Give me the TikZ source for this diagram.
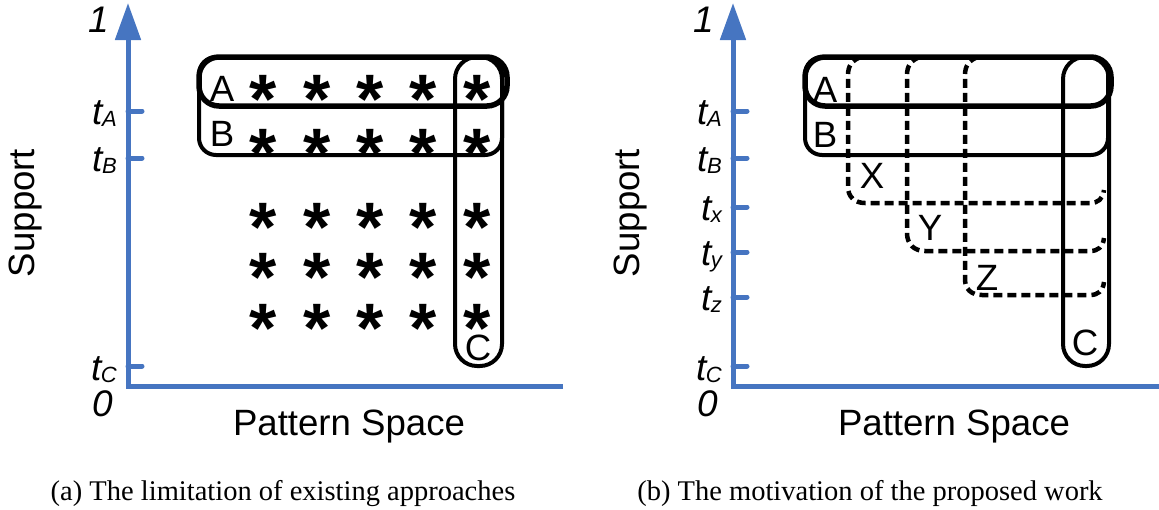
\documentclass[tikz,border=0pt]{standalone}
\usepackage{fontspec}
\setmainfont{Liberation Serif}
\newfontfamily\sansfam{Liberation Sans}
\usetikzlibrary{arrows.meta}
\definecolor{axisblue}{RGB}{70,117,193}
% italic threshold label: t with a small subscript
\newcommand{\thr}[1]{t\kern-0.5pt\raisebox{-2pt}{\fontsize{22}{22}\selectfont #1}}
\begin{document}
\begin{tikzpicture}[x=1pt,y=-1pt,
  axis/.style={draw=axisblue, line width=5pt},
  axisarrow/.style={axis, -{Triangle[width=25pt,length=37pt]}},
  tickmark/.style={axis, line cap=round},
  boxthick/.style={draw, line width=5.5pt, rounded corners=20pt},
  boxthin/.style={draw, line width=4pt, rounded corners=17pt},
  barbox/.style={draw, line width=4pt, rounded corners=22pt},
  dashset/.style={draw, line width=4.5pt, dash pattern=on 9pt off 5pt},
  lbl/.style={font=\sansfam\fontsize{36.6}{40}\selectfont, inner sep=0pt, anchor=base},
  axlbl/.style={font=\sansfam\itshape\fontsize{37}{40}\selectfont, inner sep=0pt, anchor=base east},
  ttl/.style={font=\sansfam\fontsize{36.6}{40}\selectfont, inner sep=0pt, anchor=base},
  ast/.style={font=\sansfam\bfseries\fontsize{70}{70}\selectfont, inner sep=0pt, anchor=base},
  captext/.style={font=\fontsize{28.5}{31}\selectfont, inner sep=0pt, anchor=base}]
\useasboundingbox (0,0) rectangle (1159,509);

% ---------- left panel: axes ----------
\coordinate (o1) at (128,386);
\coordinate (xe1) at (563,386);
\coordinate (ye1) at (128,3);
\draw[axisarrow] (xe1) -- (o1) -- (ye1);
\foreach \n/\y in {a/111,b/158,c/366}{
  \coordinate (t1\n) at (128,\y);
  \coordinate (t1\n e) at (142,\y);
  \draw[tickmark] (t1\n) -- (t1\n e);
}
\node[axlbl] (one1) at (109,32) {1};
\node[axlbl] (lA1) at (117,124) {\thr{A}};
\node[axlbl] (lB1) at (117,171) {\thr{B}};
\node[axlbl] (lC1) at (117,380) {\thr{C}};
\node[axlbl] (zero1) at (113,416) {0};
\node[ttl, rotate=90] (sup1) at (34,213) {Support};
\node[ttl] (ps1) at (349,435) {Pattern Space};

% ---------- left panel: groups ----------
\draw[boxthin] (199,57) rectangle (502,155);
\draw[barbox] (455,57) rectangle (502,366);
\draw[boxthick] (199,57) rectangle (507,106);
\node[lbl] (gA1) at (222,101) {A};
\node[lbl] (gB1) at (222,146) {B};
\node[lbl] (gC1) at (478,360) {C};
% pattern markers; the glyph's centre sits about 0.58em above its baseline
\foreach \y [count=\r] in {83,137,211,261,312}{
  \foreach \x [count=\c] in {263,317,370,423,477}{
    \node[ast] (ast-\r-\c) at (\x,\y+40.6) {*};
  }
}

% ---------- right panel: axes ----------
\coordinate (o2) at (733,386);
\coordinate (xe2) at (1162,386);
\coordinate (ye2) at (733,3);
\draw[axisarrow] (xe2) -- (o2) -- (ye2);
\foreach \n/\y in {a/111,b/158,x/207,y/252,z/297,c/366}{
  \coordinate (t2\n) at (733,\y);
  \coordinate (t2\n e) at (747,\y);
  \draw[tickmark] (t2\n) -- (t2\n e);
}
\node[axlbl] (one2) at (714,32) {1};
\node[axlbl] (lA2) at (722,124) {\thr{A}};
\node[axlbl] (lB2) at (722,171) {\thr{B}};
\node[axlbl] (lX2) at (722,220) {\thr{x}};
\node[axlbl] (lY2) at (722,265) {\thr{y}};
\node[axlbl] (lZ2) at (722,310) {\thr{z}};
\node[axlbl] (lC2) at (722,380) {\thr{C}};
\node[axlbl] (zero2) at (718,416) {0};
\node[ttl, rotate=90] (sup2) at (639,213) {Support};
\node[ttl] (ps2) at (954,435) {Pattern Space};

% ---------- right panel: groups ----------
\draw[boxthin] (805,57) rectangle (1108,155);
\draw[barbox] (1063,57) rectangle (1109,366);
\draw[boxthick] (805,57) rectangle (1111,106);
% dashed groups X, Y, Z (left and lower edges)
\draw[dashset] (861,57) .. controls (852,60) and (848,66) .. (848,75)
  -- (848,187) .. controls (848,197) and (855,203) .. (865,203)
  -- (1090,203) .. controls (1098,203) and (1103,199) .. (1104,190);
\draw[dashset] (920,57) .. controls (911,60) and (907,66) .. (907,75)
  -- (907,233) .. controls (907,244) and (914,251) .. (925,251)
  -- (1090,251) .. controls (1098,251) and (1103,247) .. (1104,238);
\draw[dashset] (978,57) .. controls (969,60) and (965,66) .. (965,75)
  -- (965,279) .. controls (965,289) and (971,295) .. (982,295)
  -- (1090,295) .. controls (1098,295) and (1103,291) .. (1104,282);
\node[lbl] (gA2) at (825,102) {A};
\node[lbl] (gB2) at (825,147) {B};
\node[lbl] (gX2) at (872,188) {X};
\node[lbl] (gY2) at (930,240) {Y};
\node[lbl] (gZ2) at (987,290) {Z};
\node[lbl] (gC2) at (1085,355) {C};

% ---------- captions ----------
\node[captext] (capa) at (283,500) {(a) The limitation of existing approaches};
\node[captext] (capb) at (870,500) {(b) The motivation of the proposed work};
\end{tikzpicture}
\end{document}
